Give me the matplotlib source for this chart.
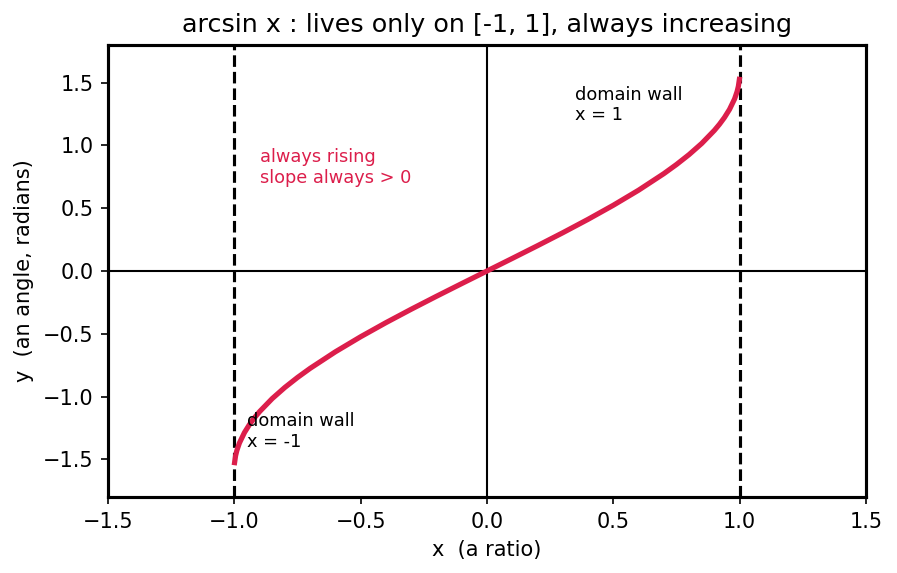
import matplotlib
matplotlib.use("Agg")
import matplotlib.pyplot as plt

# Curve points (y = arcsin x)
x_vals = [-0.999, -0.995, -0.99, -0.98, -0.96, -0.94, -0.92, -0.9, -0.85, -0.8, -0.75,
          -0.7, -0.6, -0.5, -0.4, -0.3, -0.2, -0.1, 0.0, 0.1, 0.2, 0.3, 0.4, 0.5, 0.6,
          0.7, 0.75, 0.8, 0.85, 0.9, 0.92, 0.94, 0.96, 0.98, 0.99, 0.995, 0.999]
y_vals = [-1.5261, -1.4708, -1.4293, -1.3705, -1.2870, -1.2226, -1.1681, -1.1198,
          -1.0160, -0.9273, -0.8481, -0.7754, -0.6435, -0.5236, -0.4115, -0.3047, -0.2014,
          -0.1002, 0.0, 0.1002, 0.2014, 0.3047, 0.4115, 0.5236, 0.6435, 0.7754, 0.8481,
          0.9273, 1.0160, 1.1198, 1.1681, 1.2226, 1.2870, 1.3705, 1.4293, 1.4708, 1.5261]

walls = [-1, 1]
title = "arcsin x : lives only on [-1, 1], always increasing"
xlabel = "x  (a ratio)"
ylabel = "y  (an angle, radians)"

fig = plt.figure(figsize=(5.98, 3.82), dpi=150)
ax = fig.add_axes([0.1204, 0.1326, 0.845, 0.7889])

ax.axhline(0, color="black", lw=1)
ax.axvline(0, color="black", lw=1)
for w in walls:
    ax.axvline(w, color="black", lw=1.5, ls="--")
ax.plot(x_vals, y_vals, color="#DC1E4B", lw=2.5)

ax.text(-0.9, 0.7, "always rising\nslope always > 0", color="#DC1E4B", fontsize=8.5)
ax.text(0.35, 1.2, "domain wall\nx = 1", color="black", fontsize=8.5)
ax.text(-0.95, -1.4, "domain wall\nx = -1", color="black", fontsize=8.5)

ax.set_xlim(-1.5, 1.5)
ax.set_ylim(-1.8, 1.8)
ax.set_title(title, fontsize=12.2)
ax.set_xlabel(xlabel)
ax.set_ylabel(ylabel)
for s in ax.spines.values():
    s.set_linewidth(1.5)

fig.savefig("out.png", dpi=150)
